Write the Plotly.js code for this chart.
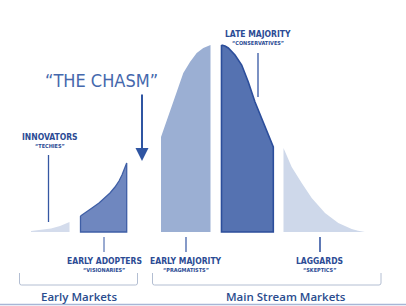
<!DOCTYPE html>
<html>
<head>
<meta charset="utf-8">
<script src="https://cdn.plot.ly/plotly-3.0.1.min.js"></script>
<style>html,body{margin:0;padding:0;background:#fff;}#chart{width:406px;height:306px;}</style>
</head>
<body>
<div id="chart"></div>
<script>
// Adoption segments: position along the lifecycle and curve height
const innovatorsX   = [31, 40, 51, 60, 69.5];
const innovatorsY   = [1, 2, 3.5, 6, 10];
const adoptersX     = [80.5, 86, 92, 99, 105, 110, 115, 119, 122, 124.5, 126.7];
const adoptersY     = [16, 19.5, 24, 29, 34, 39, 45, 51, 57, 63, 69];
const earlyMajX     = [161, 165, 170, 176.7, 183.3, 190, 196.7, 203.3, 210.5];
const earlyMajY     = [95, 107, 120, 140, 159, 170, 179, 184, 187];
const lateMajX      = [221.5, 225, 228.3, 235, 241.7, 248.3, 255, 261.7, 268.3, 273.3];
const lateMajY      = [187, 186, 184, 177, 167, 150, 130, 114, 97, 85];
const laggardsX     = [283.5, 291.7, 301.7, 311.7, 325, 338.3, 351.7, 358, 365];
const laggardsY     = [84, 65, 49, 34, 19, 9, 3, 1.2, 0];

const segmentNames  = ["Innovators", "Early Adopters", "Early Majority", "Late Majority", "Laggards"];
const segmentTitles = ["INNOVATORS", "EARLY ADOPTERS", "EARLY MAJORITY", "LATE MAJORITY", "LAGGARDS"];
const segmentNicks  = ["\u201CTECHIES\u201D", "\u201CVISIONARIES\u201D", "\u201CPRAGMATISTS\u201D", "\u201CCONSERVATIVES\u201D", "\u201CSKEPTICS\u201D"];
const marketNames   = ["Early Markets", "Main Stream Markets"];
const chasmLabel    = "\u201CTHE CHASM\u201D";

const segX = [innovatorsX, adoptersX, earlyMajX, lateMajX, laggardsX];
const segY = [innovatorsY, adoptersY, earlyMajY, lateMajY, laggardsY];
const fills = ["#d4dcec", "#6f87bf", "#9bafd3", "#5572b1", "#ced8ea"];
const lines = ["rgba(0,0,0,0)", "#3f5fa6", "rgba(0,0,0,0)", "#2c4e9b", "rgba(0,0,0,0)"];
const lineW = [0, 1.3, 0, 1.6, 0];

const traces = segX.map((xs, i) => {
  const ys = segY[i];
  return {
    type: "scatter", mode: "lines", name: segmentNames[i],
    x: xs.concat([xs[xs.length - 1], xs[0], xs[0]]),
    y: ys.concat([0, 0, ys[0]]),
    fill: "toself", fillcolor: fills[i],
    line: {color: lines[i], width: lineW[i]},
    hoverinfo: "skip", showlegend: false
  };
});

const dark = "#2b4b94";
const cond = "Liberation Sans Narrow, DejaVu Sans Condensed, Arial Narrow, sans-serif";

// label positions (layout)
const titlePos = [[49.5, 137], [104, 261], [186, 261], [258, 34], [319, 261]];
const annotations = [];
titlePos.forEach((p, i) => {
  annotations.push({x: p[0], y: 232 - p[1], xref: "x", yref: "y", text: segmentTitles[i], showarrow: false,
    xanchor: "center", yanchor: "middle", font: {family: cond, size: 8.5, color: dark, weight: "bold"}});
  annotations.push({x: p[0], y: 232 - p[1] - 9, xref: "x", yref: "y", text: segmentNicks[i], showarrow: false,
    xanchor: "center", yanchor: "middle", font: {family: cond, size: 5.5, color: dark, weight: "bold"}});
});
annotations.push({x: 101, y: 232 - 80, xref: "x", yref: "y", text: chasmLabel, showarrow: false,
  xanchor: "center", yanchor: "middle", font: {family: cond, size: 18, color: "#4568ad", weight: 500}});
annotations.push({x: 79, y: 232 - 296, xref: "x", yref: "y", text: marketNames[0], showarrow: false,
  xanchor: "center", yanchor: "middle", font: {family: "Open Sans, sans-serif", size: 11.5, color: "#2a4c8e", weight: 600}});
annotations.push({x: 286, y: 232 - 296, xref: "x", yref: "y", text: marketNames[1], showarrow: false,
  xanchor: "center", yanchor: "middle", font: {family: "Open Sans, sans-serif", size: 11.5, color: "#2a4c8e", weight: 600}});
// chasm arrow
annotations.push({x: 142, y: 232 - 161, ax: 142, ay: 232 - 93, xref: "x", yref: "y", axref: "x", ayref: "y",
  text: "", showarrow: true, arrowhead: 2, arrowsize: 1.3, arrowwidth: 2, arrowcolor: "#2f55a2"});

const shapes = [];
const vline = (x, y0, y1, w) => shapes.push({type: "line", xref: "x", yref: "y", x0: x, x1: x, y0: 232 - y0, y1: 232 - y1,
  line: {color: "#3557a3", width: w}});
vline(48.5, 155, 222, 1.3);
vline(258, 53, 97, 1.3);
vline(104, 237, 252, 1);
vline(186, 237, 252, 1.2);
vline(320, 237, 252, 1.6);
// brackets
const bracket = (x0, x1) => shapes.push({type: "path", xref: "x", yref: "y",
  path: `M ${x0} ${232 - 273} L ${x0} ${232 - 283} Q ${x0} ${232 - 285} ${x0 + 2} ${232 - 285} L ${x1 - 2} ${232 - 285} Q ${x1} ${232 - 285} ${x1} ${232 - 283} L ${x1} ${232 - 273}`,
  line: {color: "#b3bed2", width: 1}});
bracket(19.5, 137.5);
bracket(152.5, 381);
// bottom rule
shapes.push({type: "line", xref: "x", yref: "y", x0: 0, x1: 406, y0: 232 - 304.5, y1: 232 - 304.5,
  line: {color: "#a7b6d6", width: 1.5}});

const layout = {
  width: 406, height: 306,
  margin: {l: 0, r: 0, t: 0, b: 0},
  paper_bgcolor: "#ffffff", plot_bgcolor: "#ffffff",
  xaxis: {range: [0, 406], visible: false, fixedrange: true},
  yaxis: {range: [-74, 232], visible: false, fixedrange: true},
  showlegend: false,
  annotations: annotations,
  shapes: shapes
};

Plotly.newPlot("chart", traces, layout, {staticPlot: true, displayModeBar: false});
</script>
</body>
</html>
